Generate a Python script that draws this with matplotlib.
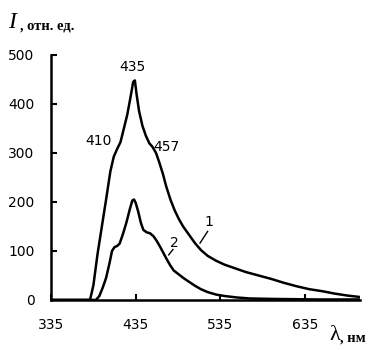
import numpy as np
import matplotlib.pyplot as plt

# curve 1
wl1 = [335, 381, 385, 390, 395, 400, 405, 409, 413, 417, 421, 425, 429, 432, 434,
       436, 439, 443, 447, 451, 455, 459, 463, 467, 471, 476, 481, 486, 491, 498,
       505, 512, 520, 530, 540, 550, 565, 580, 595, 610, 625, 640, 655, 670, 685, 700]
int1 = [0, 0, 30, 95, 150, 205, 262, 292, 308, 322, 350, 378, 415, 445, 448,
        420, 385, 355, 335, 320, 312, 300, 280, 258, 232, 205, 183, 165, 150, 133,
        116, 102, 90, 80, 72, 66, 57, 50, 43, 35, 28, 22, 18, 13, 9, 6]

# curve 2
wl2 = [335, 388, 392, 396, 400, 404, 407, 410, 413, 416, 420, 424, 428, 431, 433,
       435, 438, 441, 444, 448, 452, 456, 460, 464, 468, 472, 476, 480, 486, 492,
       498, 505, 512, 520, 530, 540, 555, 570, 600, 650, 700]
int2 = [0, 0, 8, 25, 45, 75, 100, 108, 110, 115, 135, 158, 185, 203, 205,
        198, 180, 158, 143, 138, 136, 130, 120, 108, 95, 82, 70, 60, 52, 44,
        37, 29, 22, 16, 11, 8, 5, 3, 2, 1, 1]

xticks = [335, 435, 535, 635]
yticks = [0, 100, 200, 300, 400, 500]

fig = plt.figure(figsize=(3.9, 3.5), dpi=100)
ax = fig.add_axes([0.131, 0.143, 0.792, 0.7])

ax.plot(wl1, int1, color='black', lw=1.8)
ax.plot(wl2, int2, color='black', lw=1.8)

ax.set_xlim(335, 700)
ax.set_ylim(0, 500)
ax.set_xticks(xticks)
ax.set_yticks(yticks)
ax.spines['top'].set_visible(False)
ax.spines['right'].set_visible(False)
ax.spines['left'].set_linewidth(1.8)
ax.spines['bottom'].set_linewidth(1.8)
ax.tick_params(direction='in', length=4, width=1.5, labelsize=10)
ax.tick_params(axis='x', pad=13)
ax.tick_params(axis='y', pad=12)

# peak labels
ax.text(431, 462, '435', ha='center', va='bottom', fontsize=10)
ax.text(407, 325, '410', ha='right', va='center', fontsize=10)
ax.text(456, 312, '457', ha='left', va='center', fontsize=10)

# curve numbers with leader lines
ax.text(522, 160, '1', ha='center', va='center', fontsize=10)
ax.plot([511, 520], [116, 140], color='black', lw=1)
ax.text(481, 117, '2', ha='center', va='center', fontsize=10)
ax.plot([474, 479], [92, 103], color='black', lw=1)

fig.text(0.02, 0.937, 'I', fontsize=17, family='Liberation Serif', style='italic',
         va='center')
fig.text(0.052, 0.926, ', отн. ед.', fontsize=10.5, family='Liberation Serif',
         weight='bold', va='center')
fig.text(0.845, 0.04, 'λ', fontsize=16, family='Liberation Serif', va='center')
fig.text(0.873, 0.033, ', нм', fontsize=10.5, family='Liberation Serif',
         weight='bold', va='center')

fig.savefig('out.png', dpi=100)
